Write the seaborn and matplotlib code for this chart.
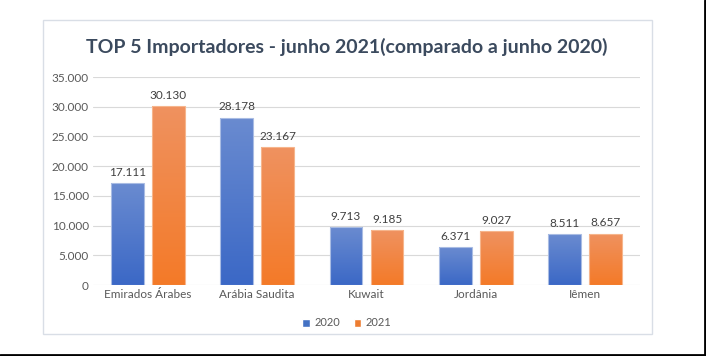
import numpy as np
import pandas as pd
import matplotlib
matplotlib.use("Agg")
import matplotlib.pyplot as plt
import seaborn as sns
from matplotlib.patches import Patch, Rectangle
from matplotlib.colors import LinearSegmentedColormap
from matplotlib.ticker import FuncFormatter

# data
paises = ["Emirados Árabes", "Arábia Saudita", "Kuwait", "Jordânia", "Iêmen"]
anos = ["2020", "2021"]
valores_2020 = [17111, 28178, 9713, 6371, 8511]
valores_2021 = [30130, 23167, 9185, 9027, 8657]
y_ticks = [0, 5000, 10000, 15000, 20000, 25000, 30000, 35000]

df = pd.DataFrame({
    "pais": paises * 2,
    "ano": [anos[0]] * len(paises) + [anos[1]] * len(paises),
    "valor": valores_2020 + valores_2021,
})

sns.set_theme(style="white")
plt.rcParams["font.family"] = ["Lato", "DejaVu Sans"]

W, H = 706, 356
fig = plt.figure(figsize=(W / 100, H / 100), dpi=100)
fig.patch.set_facecolor("white")

# chart frame and outer black edges
fig.patches.append(Rectangle((43 / W, 1 - 334 / H), (652 - 43) / W, (334 - 20) / H,
                             transform=fig.transFigure, fill=False,
                             edgecolor="#D9DEE6", lw=1))
fig.add_artist(plt.Line2D([0, 1], [1.5 / H, 1.5 / H], transform=fig.transFigure,
                          color="black", lw=2))
fig.add_artist(plt.Line2D([1 - 1.5 / W, 1 - 1.5 / W], [0, 1], transform=fig.transFigure,
                          color="black", lw=2))

ax = fig.add_axes([93 / W, 1 - 285 / H, (640 - 93) / W, (285 - 77) / H])

cores = {"2020": "#4472C4", "2021": "#ED7D31"}
sns.barplot(data=df, x="pais", y="valor", hue="ano", palette=cores,
            width=0.75, gap=0.2, ax=ax, legend=False, errorbar=None)

ax.set_ylim(0, 35000)
ax.set_yticks(y_ticks)
ax.yaxis.set_major_formatter(FuncFormatter(lambda v, p: f"{int(v):,}".replace(",", ".")))
ax.grid(axis="y", color="#D9D9D9", lw=0.8)
ax.set_axisbelow(True)
for s in ax.spines.values():
    s.set_visible(False)
ax.set_xlabel("")
ax.set_ylabel("")
ax.tick_params(axis="both", length=0, labelsize=8.5, labelcolor="#595959", pad=3)

# gradient fill clipped to each bar
grad = {
    "2020": LinearSegmentedColormap.from_list("b", ["#3B68C6", "#6A8BD0"]),
    "2021": LinearSegmentedColormap.from_list("o", ["#F47A28", "#EF9260"]),
}
xlim = ax.get_xlim()
n = len(paises)
for i, bar in enumerate(ax.patches[:2 * n]):
    ano = anos[i // n]
    x0, w, h = bar.get_x(), bar.get_width(), bar.get_height()
    img = np.linspace(0, 1, 256).reshape(-1, 1)
    im = ax.imshow(img, cmap=grad[ano], origin="lower", aspect="auto",
                   extent=[x0, x0 + w, 0, h], zorder=2)
    im.set_clip_path(bar)
    bar.set_facecolor("none")
    bar.set_edgecolor("#A9BCE3" if ano == "2020" else "#F6B58C")
    bar.set_linewidth(0.8)
    bar.set_zorder(3)
    ax.text(x0 + w / 2, h + 900, f"{h:,.0f}".replace(",", "."), ha="center", va="bottom",
            fontsize=8.5, color="#404040")
ax.set_xlim(xlim)
ax.set_ylim(0, 35000)

fig.text(347 / W, 1 - 47 / H, "TOP 5 Importadores - junho 2021(comparado a junho 2020)",
         ha="center", va="center", fontsize=14, fontweight="bold", color="#3B4A5E")

handles = [Patch(facecolor=cores[a], label=a) for a in anos]
leg = fig.legend(handles=handles, loc="center", bbox_to_anchor=(347 / W, 1 - 323 / H),
                 ncol=2, frameon=False, fontsize=8, handlelength=0.7, handleheight=0.7,
                 handletextpad=0.4, columnspacing=1.2)
for t in leg.get_texts():
    t.set_color("#595959")

fig.savefig("out.png", dpi=100)
